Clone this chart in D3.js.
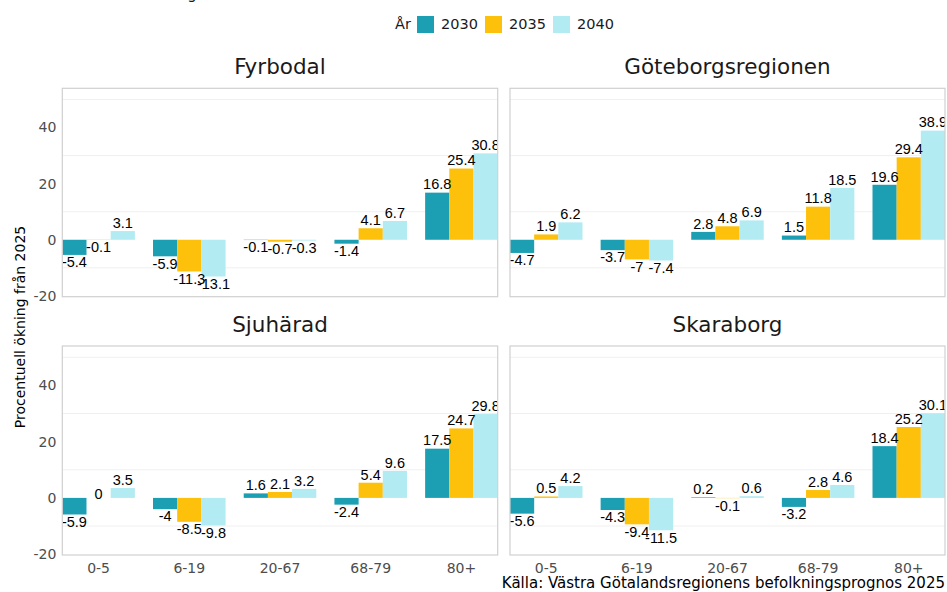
<!DOCTYPE html>
<html>
<head>
<meta charset="utf-8">
<script src="https://cdn.jsdelivr.net/npm/d3@7"></script>
<style>
  body { margin: 0; background: #fff; }
  svg { display: block; font-family: "DejaVu Sans", sans-serif; }
</style>
</head>
<body>
<div id="chart"></div>
<script>
// Data
const regions = ["Fyrbodal", "Göteborgsregionen", "Sjuhärad", "Skaraborg"];
const ageGroups = ["0-5", "6-19", "20-67", "68-79", "80+"];
const years = ["2030", "2035", "2040"];
const yTicks = [-20, 0, 20, 40];
const yMinor = [-10, 10, 30, 50];

// values per region, one array per year (in ageGroups order)
const fyrbodal = {
  "2030": [-5.4, -5.9, -0.1, -1.4, 16.8],
  "2035": [-0.1, -11.3, -0.7, 4.1, 25.4],
  "2040": [3.1, -13.1, -0.3, 6.7, 30.8]
};
const goteborg = {
  "2030": [-4.7, -3.7, 2.8, 1.5, 19.6],
  "2035": [1.9, -7, 4.8, 11.8, 29.4],
  "2040": [6.2, -7.4, 6.9, 18.5, 38.9]
};
const sjuharad = {
  "2030": [-5.9, -4, 1.6, -2.4, 17.5],
  "2035": [0, -8.5, 2.1, 5.4, 24.7],
  "2040": [3.5, -9.8, 3.2, 9.6, 29.8]
};
const skaraborg = {
  "2030": [-5.6, -4.3, 0.2, -3.2, 18.4],
  "2035": [0.5, -9.4, -0.1, 2.8, 25.2],
  "2040": [4.2, -11.5, 0.6, 4.6, 30.1]
};
const regionValues = [fyrbodal, goteborg, sjuharad, skaraborg];
const yearColors = ["#1c9fb3", "#fdc00b", "#b2ebf2"];

const width = 947;
const height = 592;

const svg = d3.select("#chart").append("svg").attr("width", width).attr("height", height);

// clipped title (only its bottom edge shows in the reference)
svg.append("text")
  .attr("x", 30).attr("y", -1)
  .style("font-size", "15px").attr("fill", "#1a1a1a")
  .text("Procentuell förändring från 2025");

// Legend
const legend = svg.append("g");
legend.append("text").attr("x", 395).attr("y", 24).attr("dy", "0.35em")
  .style("font-size", "14.5px").attr("fill", "#1a1a1a").text("År");
const legendX = [417, 485, 553];
years.forEach((yr, i) => {
  legend.append("rect").attr("x", legendX[i]).attr("y", 16).attr("width", 17).attr("height", 17)
    .attr("fill", yearColors[i]);
  legend.append("text").attr("x", legendX[i] + 24).attr("y", 24).attr("dy", "0.35em")
    .style("font-size", "14.5px").attr("fill", "#1a1a1a").text(yr);
});

// Facet layout
const cols = [[62.3, 497.7], [510, 945]];
const rows = [[88.3, 296.7], [346, 555]];

const color = d3.scaleOrdinal().domain(years).range(yearColors);

regions.forEach((region, idx) => {
  const col = idx % 2;
  const row = Math.floor(idx / 2);
  const [x0, x1] = cols[col];
  const [y0, y1] = rows[row];

  const x = d3.scaleBand().domain(ageGroups).range([x0, x1]).paddingInner(0.2).paddingOuter(0);
  const xYear = d3.scaleBand().domain(years).range([0, x.bandwidth()]);
  const y = d3.scaleLinear().domain([-20.3, 54]).range([y1, y0]);

  const g = svg.append("g");

  // facet title
  g.append("text")
    .attr("x", (x0 + x1) / 2).attr("y", y0 - 22).attr("dy", "0.35em")
    .attr("text-anchor", "middle")
    .style("font-size", "21.5px").attr("fill", "#1a1a1a")
    .text(region);

  // grid lines
  g.selectAll(".minor").data(yMinor).join("line")
    .attr("x1", x0).attr("x2", x1)
    .attr("y1", (d) => y(d)).attr("y2", (d) => y(d))
    .attr("stroke", "#f0f0f0").attr("stroke-width", 1);

  // clip bars and labels to the panel
  const clipId = "clip" + idx;
  svg.append("clipPath").attr("id", clipId)
    .append("rect").attr("x", x0).attr("y", y0).attr("width", x1 - x0).attr("height", y1 - y0);

  const plot = g.append("g").attr("clip-path", `url(#${clipId})`);

  const data = [];
  ageGroups.forEach((ag, i) => {
    years.forEach((yr) => {
      data.push({ age: ag, year: yr, value: regionValues[idx][yr][i] });
    });
  });

  plot.selectAll("rect").data(data).join("rect")
    .attr("x", (d) => x(d.age) + xYear(d.year))
    .attr("width", xYear.bandwidth())
    .attr("y", (d) => y(Math.max(0, d.value)))
    .attr("height", (d) => Math.abs(y(d.value) - y(0)))
    .attr("fill", (d) => color(d.year));

  plot.selectAll("text").data(data).join("text")
    .attr("x", (d) => x(d.age) + xYear(d.year) + xYear.bandwidth() / 2)
    .attr("y", (d) => (d.value > 0 ? y(d.value) : d.value < 0 ? y(d.value) : y(0) - 4))
    .attr("dy", (d) => (d.value > 0 ? "-0.22em" : d.value < 0 ? "0.85em" : "0.35em"))
    .attr("text-anchor", "middle")
    .style("font-family", "'Liberation Sans', Arial, sans-serif")
    .style("font-size", "14.5px").attr("fill", "#000")
    .text((d) => d.value);

  // panel border
  g.append("rect")
    .attr("x", x0).attr("y", y0).attr("width", x1 - x0).attr("height", y1 - y0)
    .attr("fill", "none").attr("stroke", "#d0d0d0").attr("stroke-width", 1.2);

  // y axis labels (left column)
  if (col === 0) {
    g.selectAll(".ytick").data(yTicks).join("text")
      .attr("x", x0 - 6).attr("y", (d) => y(d)).attr("dy", "0.35em")
      .attr("text-anchor", "end")
      .style("font-size", "14px").attr("fill", "#4d4d4d")
      .text((d) => d);
  }
  // x axis labels (bottom row)
  if (row === 1) {
    g.selectAll(".xtick").data(ageGroups).join("text")
      .attr("x", (d) => x(d) + x.bandwidth() / 2).attr("y", y1 + 13).attr("dy", "0.35em")
      .attr("text-anchor", "middle")
      .style("font-size", "14px").attr("fill", "#4d4d4d")
      .text((d) => d);
  }
});

// y axis title
svg.append("text")
  .attr("transform", "translate(20,327) rotate(-90)")
  .attr("text-anchor", "middle").attr("dy", "0.35em")
  .style("font-size", "14px").attr("fill", "#000")
  .text("Procentuell ökning från 2025");

// caption
svg.append("text")
  .attr("x", 945).attr("y", 583).attr("dy", "0.35em")
  .attr("text-anchor", "end")
  .style("font-size", "15px").attr("fill", "#000")
  .text("Källa: Västra Götalandsregionens befolkningsprognos 2025");
</script>
</body>
</html>
